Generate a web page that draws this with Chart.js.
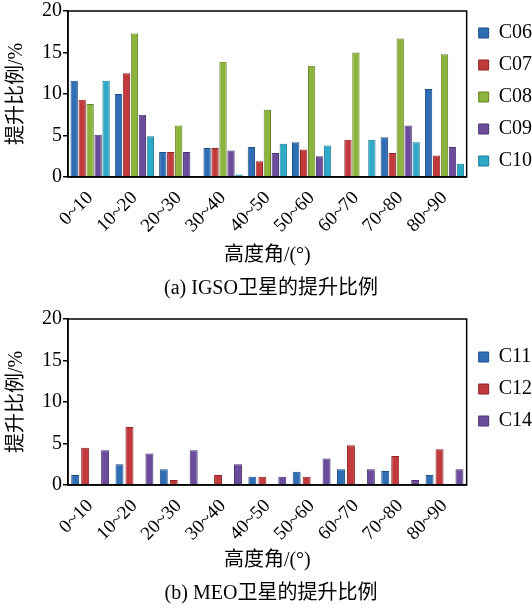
<!DOCTYPE html>
<html>
<head>
<meta charset="utf-8">
<script src="https://cdn.jsdelivr.net/npm/chart.js@4.4.1/dist/chart.umd.min.js"></script>
<style>
  body { margin: 0; background: #fff; }
  .box { width: 532px; height: 305px; }
</style>
</head>
<body>
<div class="box"><canvas id="igso" width="532" height="305"></canvas></div>
<div class="box"><canvas id="meo" width="532" height="305"></canvas></div>
<script>
// elevation bins
const categories = ['0~10', '10~20', '20~30', '30~40', '40~50', '50~60', '60~70', '70~80', '80~90'];
const yTicks = [0, 5, 10, 15, 20];

// (a) IGSO
const c06 = [11.6, 10.0, 3.0, 3.5, 3.6, 4.2, 0, 4.8, 10.6];
const c07 = [9.3, 12.5, 3.0, 3.5, 1.9, 3.3, 4.5, 2.9, 2.6];
const c08 = [8.8, 17.3, 6.2, 13.9, 8.1, 13.4, 15.0, 16.7, 14.8];
const c09 = [5.1, 7.5, 3.0, 3.2, 2.9, 2.5, 0, 6.2, 3.6];
const c10 = [11.6, 4.9, 0, 0.3, 4.0, 3.8, 4.5, 4.2, 1.6];

// (b) MEO
const c11 = [1.2, 2.5, 1.9, 0, 1.0, 1.6, 1.9, 1.7, 1.2];
const c12 = [4.5, 7.0, 0.6, 1.2, 1.0, 1.0, 4.8, 3.5, 4.3];
const c14 = [4.2, 3.8, 4.2, 2.5, 1.0, 3.2, 1.9, 0.6, 1.9];

const FONT = '"Liberation Serif", "Noto Sans CJK SC", serif';

const colors = {
  blue:   ['#2f6db4', '#1f4f86'],
  red:    ['#c23a3b', '#8e2426'],
  green:  ['#8cb43c', '#638426'],
  purple: ['#6b4c9c', '#4b3371'],
  cyan:   ['#2ea9c8', '#1d7b93']
};

function bar(label, data, col) {
  return {
    label: label,
    data: data,
    backgroundColor: col[0],
    borderColor: col[1],
    borderWidth: 1
  };
}

// black box round the plot area
const framePlugin = {
  id: 'frame',
  afterDraw(chart) {
    const a = chart.chartArea;
    const ctx = chart.ctx;
    ctx.save();
    ctx.strokeStyle = '#000';
    ctx.lineWidth = 1.5;
    ctx.strokeRect(a.left, a.top, a.right - a.left, a.bottom - a.top);
    ctx.restore();
  }
};

function makeChart(id, datasets, caption, cfg) {
  return new Chart(document.getElementById(id), {
    type: 'bar',
    data: { labels: categories, datasets: datasets },
    plugins: [framePlugin],
    options: {
      responsive: false,
      animation: false,
      categoryPercentage: 0.9,
      barPercentage: cfg.barPct,
      layout: { padding: { top: cfg.top, left: 0, right: -10, bottom: 0 } },
      plugins: {
        tooltip: { enabled: false },
        legend: {
          position: 'right',
          align: 'start',
          // blank title only used to push the entries down
          title: { display: cfg.legendOffset > 0, text: ' ', padding: 0, font: { size: cfg.legendOffset || 1, lineHeight: 1 } },
          labels: {
            color: '#000',
            boxWidth: 10,
            boxHeight: 10,
            padding: 12,
            font: { family: FONT, size: 20 },
            filter: item => item.text !== ''
          }
        },
        title: {
          display: true,
          position: 'bottom',
          text: caption,
          color: '#000',
          padding: { top: 4, bottom: 4 },
          font: { family: FONT, size: 20, weight: 'normal' }
        }
      },
      scales: {
        x: {
          grid: { display: false },
          border: { color: '#000', width: 1.5 },
          ticks: {
            color: '#000',
            autoSkip: false,
            minRotation: 45,
            maxRotation: 45,
            padding: 2,
            font: { family: FONT, size: 19 }
          },
          title: {
            display: true,
            text: '高度角/(°)',
            color: '#000',
            padding: { top: 0, bottom: 5 },
            font: { family: FONT, size: 20 }
          },
          afterFit(scale) { scale.height = cfg.xHeight; }
        },
        y: {
          min: 0,
          max: 20,
          afterBuildTicks(scale) { scale.ticks = yTicks.map(v => ({ value: v })); },
          grid: { drawOnChartArea: false, drawTicks: true, tickLength: 5, color: '#000', lineWidth: 1.5 },
          border: { color: '#000', width: 1.5 },
          ticks: {
            color: '#000',
            padding: 1,
            font: { family: FONT, size: 20, lineHeight: 1 }
          },
          title: {
            display: true,
            text: '提升比例/%',
            color: '#000',
            padding: { top: 5, bottom: 0 },
            font: { family: FONT, size: 20 }
          },
          afterFit(scale) { scale.width = 68; }
        }
      }
    }
  });
}

makeChart('igso', [
  bar('C06', c06, colors.blue),
  bar('C07', c07, colors.red),
  bar('C08', c08, colors.green),
  bar('C09', c09, colors.purple),
  bar('C10', c10, colors.cyan)
], '(a) IGSO卫星的提升比例', { top: 11, xHeight: 96, barPct: 0.92, legendOffset: 0 });

// C13 slot is empty in the figure, kept as a blank series
const blank = categories.map(() => null);
makeChart('meo', [
  bar('C11', c11, colors.blue),
  bar('C12', c12, colors.red),
  { label: '', data: blank, backgroundColor: 'rgba(0,0,0,0)', borderWidth: 0 },
  bar('C14', c14, colors.purple)
], '(b) MEO卫星的提升比例', { top: 14, xHeight: 93, barPct: 0.8, legendOffset: 16 });
</script>
</body>
</html>
